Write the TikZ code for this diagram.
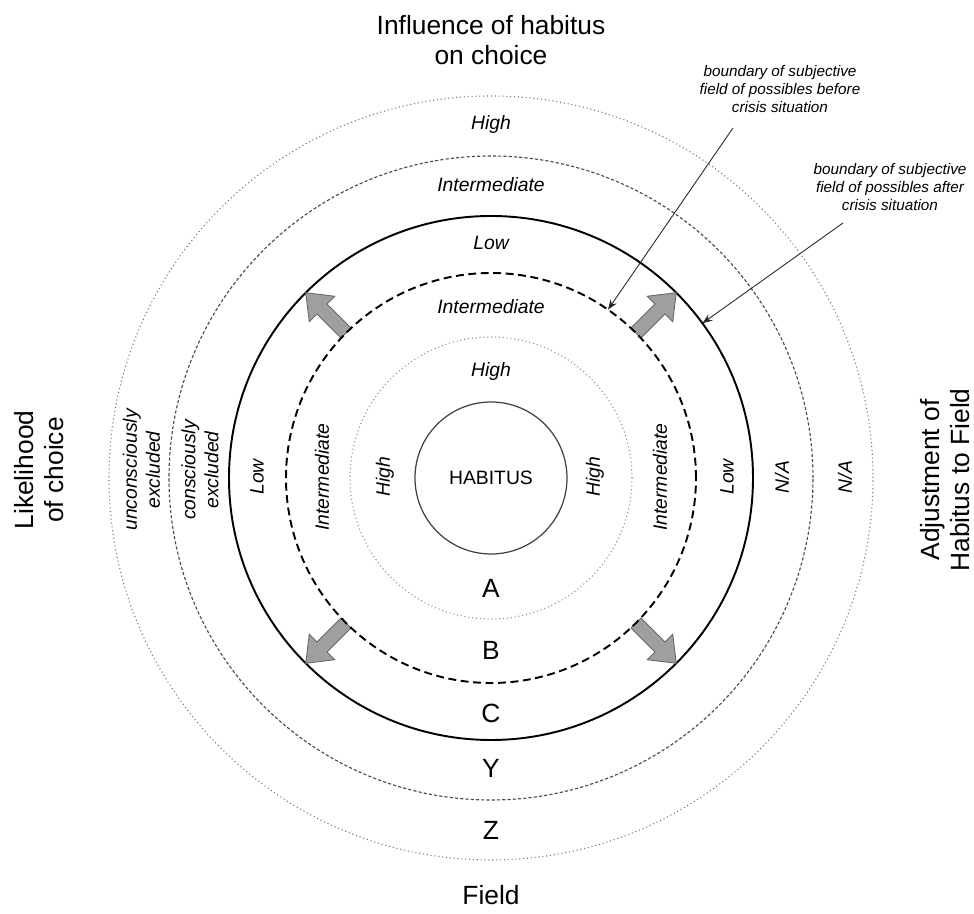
\documentclass[tikz,border=0pt]{standalone}
\usepackage{fontspec}
\setmainfont{Liberation Sans}
\usetikzlibrary{arrows.meta}

\begin{document}
\begin{tikzpicture}[
        every node/.style={font=\fontsize{11}{13}\selectfont\itshape}, % ring labels
        heading/.style={font=\fontsize{15}{17.5}\selectfont, align=center},
        letter/.style={font=\fontsize{15}{17}\selectfont},
        note/.style={font=\fontsize{8.7}{10.5}\selectfont\itshape, align=center},
        finedots/.style={draw=black!55, line width=0.6pt, dash pattern=on 0.6pt off 1.6pt},
        finedash/.style={draw=black!70, line width=0.65pt, dash pattern=on 1.8pt off 1.2pt},
        bolddash/.style={draw=black, line width=1.1pt, dash pattern=on 4.5pt off 2.6pt},
        growarrow/.style={fill=gray!75, draw=black!60, line width=0.5pt},
        pointer/.style={draw=black!85, line width=0.5pt, -{Stealth[length=2mm,width=1.5mm]}}
    ]
    \useasboundingbox (-9.82,-8.72) rectangle (9.66,9.56);

    % the rings
    \draw[finedots] (0,0) circle (7.64);
    \draw[finedash] (0,0) circle (6.44);
    \draw[black, line width=1.1pt] (0,0) circle (5.24);
    \foreach \a in {45,135,225,315}
        \draw[growarrow, rotate=\a] (4.10,-0.14) -- (4.78,-0.14) -- (4.78,-0.36)
            -- (5.24,0) -- (4.78,0.36) -- (4.78,0.14) -- (4.10,0.14) -- cycle;
    \draw[bolddash] (0,0) circle (4.10);
    \draw[finedots, draw=black!45] (0,0) circle (2.82);
    \draw[black!75, line width=0.7pt] (0,0) circle (1.52);
    \node[font=\fontsize{11}{13}\selectfont] (habitus) at (0,0) {HABITUS};

    % outer titles
    \node[heading] (influence) at (0,8.76) {Influence of habitus\\on choice};
    \node[heading] (field) at (0,-8.34) {Field};
    \node[heading, rotate=90] (likelihood) at (-9.04,0.16) {Likelihood\\of choice};
    \node[heading, rotate=90] (adjustment) at (9.08,-0.04) {Adjustment of\\Habitus to Field};

    % top: influence of habitus
    \node (topz) at (0,7.06) {High};
    \node (topy) at (0,5.86) {Intermediate};
    \node (topc) at (0,4.70) {Low};
    \node (topb) at (0,3.42) {Intermediate};
    \node (topa) at (0,2.12) {High};

    % bottom: zones
    \node[letter] (zonea) at (0,-2.20) {A};
    \node[letter] (zoneb) at (0,-3.44) {B};
    \node[letter] (zonec) at (0,-4.70) {C};
    \node[letter] (zoney) at (0,-5.80) {Y};
    \node[letter] (zonez) at (0,-7.04) {Z};

    % left: likelihood of choice
    \node[rotate=90, align=center] (leftz) at (-6.99,0.16) {unconsciously\\excluded};
    \node[rotate=90, align=center] (lefty) at (-5.82,0.16) {consciously\\excluded};
    \node[rotate=90] (leftc) at (-4.68,0.02) {Low};
    \node[rotate=90] (leftb) at (-3.38,0.02) {Intermediate};
    \node[rotate=90] (lefta) at (-2.12,0.02) {High};

    % right: adjustment of habitus to field
    \node[rotate=90] (righta) at (2.08,0.02) {High};
    \node[rotate=90] (rightb) at (3.38,0.02) {Intermediate};
    \node[rotate=90] (rightc) at (4.72,0.02) {Low};
    \node[rotate=90] (righty) at (5.82,0.02) {N/A};
    \node[rotate=90] (rightz) at (7.08,0.02) {N/A};

    % callouts
    \node[note] (before) at (5.78,7.78) {boundary of subjective\\field of possibles before\\crisis situation};
    \node[note] (after) at (7.98,5.82) {boundary of subjective\\field of possibles after\\crisis situation};
    \coordinate (beforestart) at (4.84,7.00);
    \coordinate (beforeend) at (55.2:4.10);
    \coordinate (afterstart) at (7.04,5.10);
    \coordinate (afterend) at (36.2:5.24);
    \draw[pointer] (beforestart) -- (beforeend);
    \draw[pointer] (afterstart) -- (afterend);
\end{tikzpicture}
\end{document}
